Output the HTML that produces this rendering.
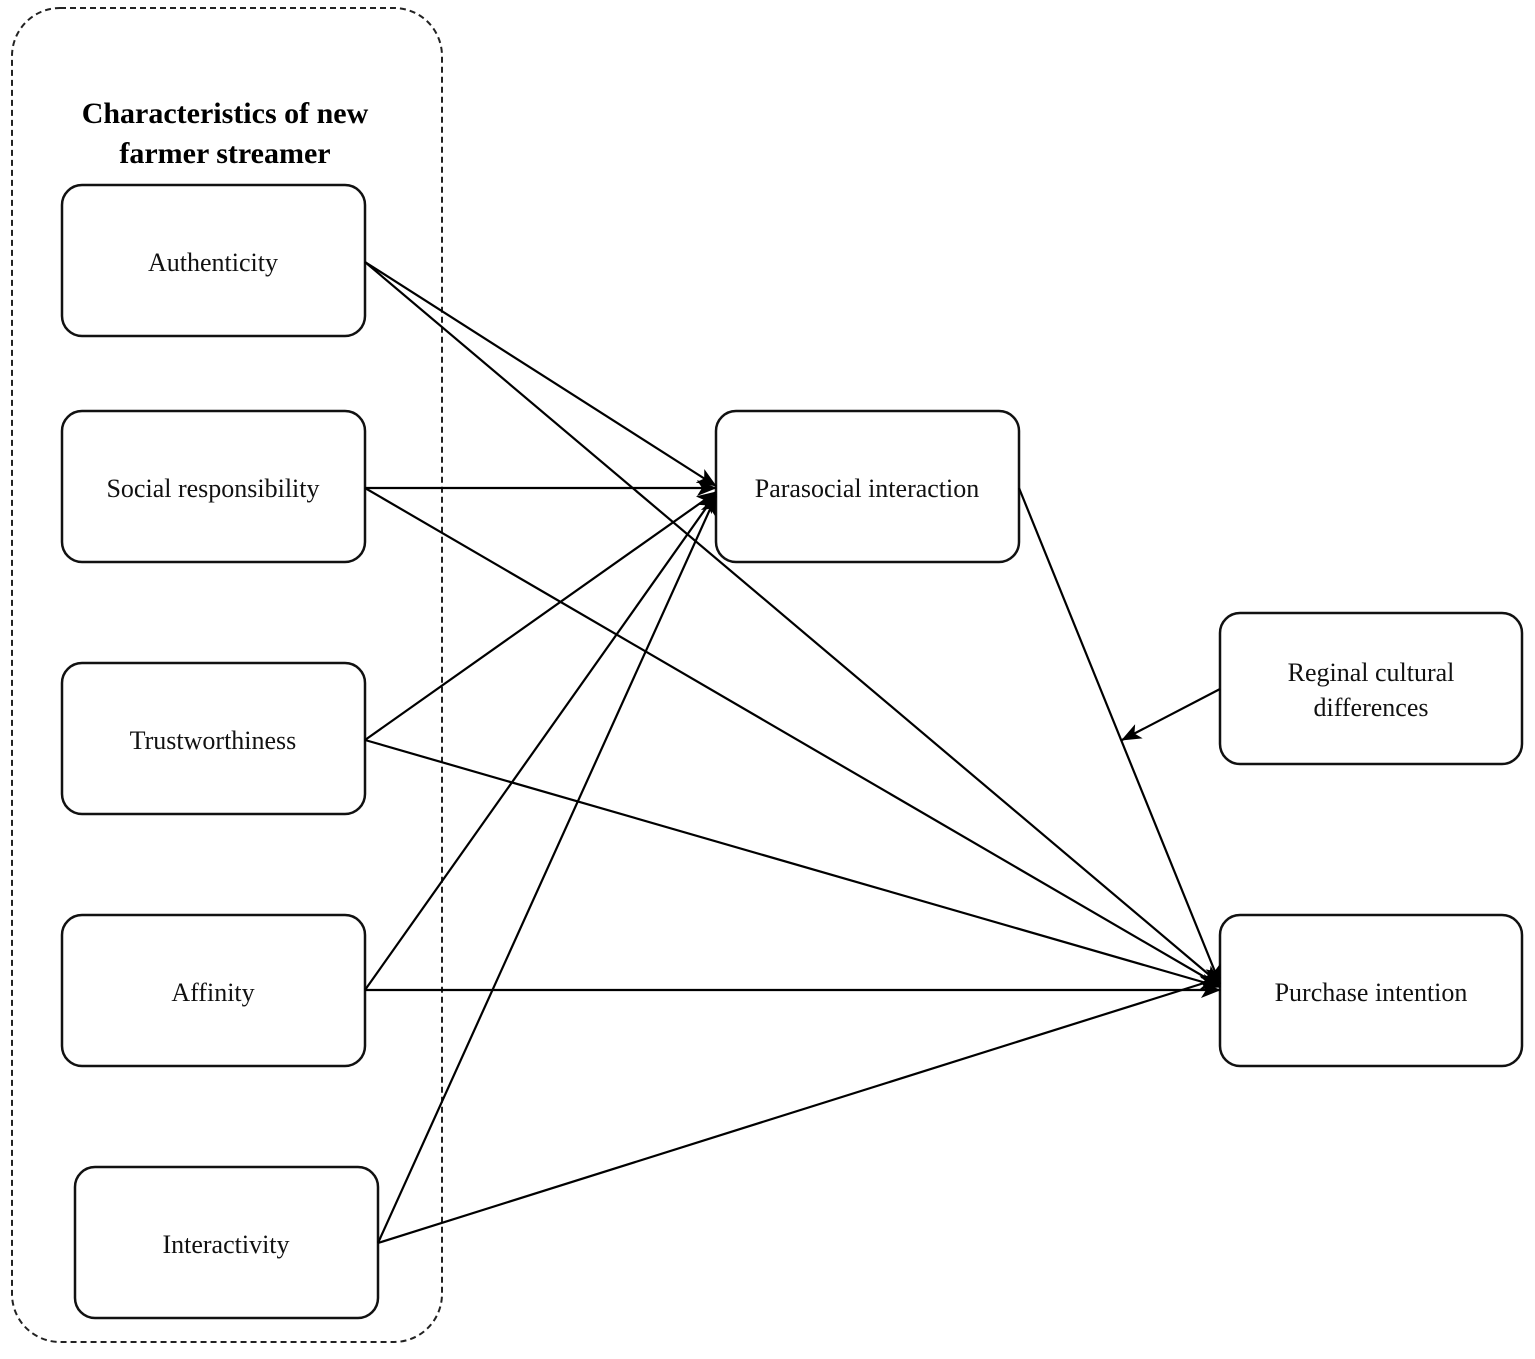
<!DOCTYPE html>
<html><head><meta charset="utf-8"><style>
html,body{margin:0;padding:0;background:#fff;}
svg text{font-family:"Liberation Serif",serif;}
</style></head><body>
<svg width="1535" height="1354" viewBox="0 0 1535 1354" xmlns="http://www.w3.org/2000/svg">
<defs>
<marker id="a" viewBox="0 0 20 16" refX="19" refY="8" markerWidth="20" markerHeight="16" markerUnits="userSpaceOnUse" orient="auto">
<path d="M0,0 L20,8 L0,16 L5,8 Z" fill="#000"/>
</marker>
</defs>
<rect x="12" y="8" width="430" height="1334" rx="48" ry="48" fill="none" stroke="#222" stroke-width="2" stroke-dasharray="6,4"/>
<text x="225" y="123" font-size="30" font-weight="bold" text-anchor="middle">Characteristics of new</text>
<text x="225" y="163" font-size="30" font-weight="bold" text-anchor="middle">farmer streamer</text>
<g fill="none" stroke="#111" stroke-width="2.5">
<rect x="62" y="185" width="303" height="151" rx="20"/>
<rect x="62" y="411" width="303" height="151" rx="20"/>
<rect x="62" y="663" width="303" height="151" rx="20"/>
<rect x="62" y="915" width="303" height="151" rx="20"/>
<rect x="75" y="1167" width="303" height="151" rx="20"/>
<rect x="716" y="411" width="303" height="151" rx="20"/>
<rect x="1220" y="613" width="302" height="151" rx="20"/>
<rect x="1220" y="915" width="302" height="151" rx="20"/>
</g>
<g font-size="26" text-anchor="middle" fill="#111">
<text x="213" y="271">Authenticity</text>
<text x="213" y="497">Social responsibility</text>
<text x="213" y="749">Trustworthiness</text>
<text x="213" y="1001">Affinity</text>
<text x="226" y="1253">Interactivity</text>
<text x="867" y="497">Parasocial interaction</text>
<text x="1371" y="681">Reginal cultural</text>
<text x="1371" y="716">differences</text>
<text x="1371" y="1001">Purchase intention</text>
</g>
<g stroke="#000" stroke-width="2.2" fill="none" marker-end="url(#a)">
<line x1="365" y1="262" x2="716" y2="486"/>
<line x1="365" y1="488" x2="716" y2="488"/>
<line x1="365" y1="740" x2="716" y2="492"/>
<line x1="365" y1="990" x2="716" y2="494"/>
<line x1="378" y1="1243" x2="716" y2="496"/>
<line x1="365" y1="262" x2="1220" y2="984"/>
<line x1="365" y1="488" x2="1220" y2="986"/>
<line x1="365" y1="740" x2="1220" y2="987"/>
<line x1="365" y1="990" x2="1220" y2="990"/>
<line x1="378" y1="1243" x2="1220" y2="978"/>
<line x1="1019" y1="488" x2="1220" y2="984"/>
<line x1="1220" y1="689" x2="1122" y2="740"/>
</g>
</svg>
</body></html>
